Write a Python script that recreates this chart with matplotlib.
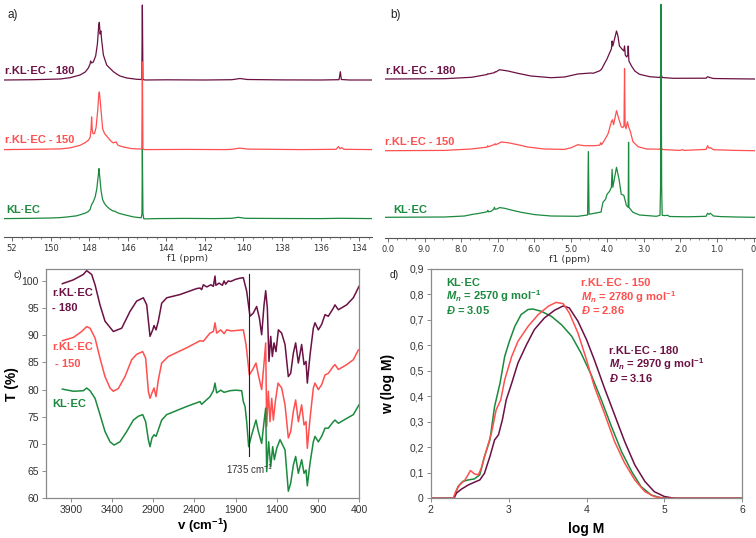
import matplotlib
matplotlib.use("Agg")
import matplotlib.pyplot as plt

plt.rcParams['font.family'] = ['Liberation Sans', 'DejaVu Sans']
plt.rcParams['mathtext.fontset'] = 'custom'
plt.rcParams['mathtext.rm'] = 'Liberation Sans'
plt.rcParams['mathtext.it'] = 'Liberation Sans:italic'
plt.rcParams['mathtext.bf'] = 'Liberation Sans:bold'
plt.rcParams['mathtext.bfit'] = 'Liberation Sans:bold:italic'

GREEN = '#1b8a3e'
RED = '#ff4f4f'
MAROON = '#6b1144'
FRAME = '#8a8a8a'
TXT = '#333333'

# ---------------- a) 31P NMR (ppm, intensity) ----------------
a_kl_ppm = [152.4, 150.9, 150.0, 149.5, 149.16, 148.64, 148.47, 148.2, 148.05, 147.95, 147.87,
            147.78, 147.68, 147.6, 147.52, 147.49, 147.45, 147.38, 147.3, 147.2, 147.09, 146.92,
            146.75, 146.66, 146.6, 146.48, 146.4, 146.2, 146.05, 145.88, 145.71, 145.5, 145.3,
            145.26, 145.24, 145.21, 145.17, 145.1, 144.5, 143.0, 141.5, 140.6, 140.27, 139.9,
            138.0, 136.0, 135.0, 133.3]
a_kl_int = [0, 0.3, 0.6, 1.0, 1.6, 2.8, 3.8, 5.5, 7, 9, 14, 17, 22, 30, 44, 50, 42, 28, 19, 15,
            12.3, 9.5, 7.5, 7.5, 6.5, 5.5, 5, 4, 3.3, 2.5, 1.7, 1.2, 0.8, 5, 69, 5, 0, -0.3, 0,
            0.2, 0, 0.3, 1.3, 0.3, 0.1, 0, 0.3, 0]

a_150_ppm = [152.4, 150.9, 149.5, 148.99, 148.47, 148.2, 148.04, 147.95, 147.9, 147.87, 147.84,
             147.8, 147.72, 147.64, 147.55, 147.5, 147.47, 147.43, 147.38, 147.3, 147.2, 147.05,
             146.88, 146.75, 146.6, 146.5, 146.25, 145.8, 145.27, 145.24, 145.21, 145.1, 143.0,
             141.0, 140.6, 140.18, 139.8, 137.0, 135.2, 135.08, 135.0, 134.91, 134.8, 133.3]
a_150_int = [0, 0.3, 0.7, 1.7, 4.3, 7, 9.3, 12, 20, 32.7, 20, 16, 16, 22, 40, 55, 57.7, 50, 39,
             21, 16, 12.7, 8.7, 6.7, 7.7, 4.3, 2.7, 1, 0.5, 87.7, 0.5, 0, 0.2, 0, 0.3, 1.5, 0.5,
             0, 0.3, 3, 0.8, 2, 0.3, 0]

a_180_ppm = [152.4, 150.9, 149.5, 148.99, 148.47, 148.2, 148.04, 147.95, 147.92, 147.87, 147.78,
             147.66, 147.57, 147.5, 147.47, 147.43, 147.39, 147.35, 147.26, 147.09, 146.92,
             146.74, 146.57, 146.4, 146.05, 145.53, 145.27, 145.24, 145.21, 145.1, 144.0, 142.0,
             140.6, 140.18, 139.8, 138.0, 136.0, 135.05, 134.98, 134.93, 134.5, 133.3]
a_180_int = [0, 0.3, 1.0, 2.3, 5, 8, 12, 16, 19, 17, 18, 24, 36, 55, 57.7, 46, 49, 40, 25, 15,
             11.7, 8.3, 6, 4, 2, 0.7, 0.5, 75, 0.5, 0, 0.2, 0, 0.3, 1.5, 0.5, 0.1, 0, 0.3, 8.3,
             0.5, 0, 0]

# ---------------- b) 1H NMR (ppm, intensity) ----------------
b_kl_ppm = [10.08, 8.45, 7.91, 7.68, 7.54, 7.36, 7.29, 7.27, 7.25, 7.18, 7.11, 7.09, 7.07, 7.01,
            6.95, 6.81, 6.63, 6.36, 5.99, 5.54, 4.81, 4.54, 4.52, 4.50, 4.36, 4.17, 4.16, 4.12,
            4.05, 4.01, 3.94, 3.89, 3.87, 3.85, 3.75, 3.68, 3.62, 3.55, 3.48, 3.43, 3.42, 3.41,
            3.39, 3.30, 3.12, 2.66, 2.56, 2.545, 2.53, 2.515, 2.50, 2.43, 2.35, 2.30, 1.8, 1.3,
            1.26, 1.22, 1.19, 1.15, 1.1, 0.9, 0.5, -0.03]
b_kl_int = [0, 0.3, 1.3, 3, 3.7, 5, 5.5, 7, 5.5, 6, 8, 10, 8, 8.5, 9.7, 9, 7.3, 5, 2.7, 1.3, 1,
            2.3, 65.7, 3, 4, 5.3, 8, 15, 18, 23, 26, 30, 48, 30, 50, 38, 23, 22, 12, 10, 75, 10,
            9, 5, 2.3, 1, 2, 30, 213, 30, 2, 1.7, 2, 0.8, 0.5, 1, 4, 3, 4, 3, 1.3, 0.7, 0.3, 0]

b_150_ppm = [10.08, 8.45, 7.72, 7.36, 7.29, 7.27, 7.25, 7.13, 7.09, 7.07, 7.05, 6.9, 6.72, 6.45,
             6.18, 5.72, 5.17, 4.99, 4.81, 4.63, 4.36, 4.21, 4.18, 4.16, 4.07, 3.98, 3.89, 3.86,
             3.83, 3.75, 3.68, 3.62, 3.58, 3.545, 3.53, 3.515, 3.49, 3.45, 3.42, 3.37, 3.30, 3.16,
             2.93, 2.56, 2.53, 2.50, 2.02, 1.94, 1.9, 1.3, 1.26, 1.22, 1.18, 1.1, 0.5, -0.03]
b_150_int = [0, 0.3, 1.7, 3.3, 3.5, 5, 4, 5.7, 6, 7, 6, 8.7, 8, 6, 3.7, 1.7, 1.3, 3, 6, 5, 5,
             5.5, 8, 6, 11, 17, 29, 31, 26, 40, 31, 24, 23, 25, 82, 25, 22, 29, 24, 19, 9, 4, 1.7,
             1.5, 4, 1.2, 0.3, 1, 0.3, 1.3, 5, 2.5, 3, 1, 0.3, 0]

b_180_ppm = [10.08, 8.45, 7.72, 7.36, 7.29, 7.27, 7.25, 7.13, 7.09, 7.07, 7.05, 6.95, 6.72, 6.45,
             6.09, 5.54, 5.17, 4.81, 4.45, 4.39, 4.22, 4.16, 4.07, 4.01, 3.94, 3.89, 3.87, 3.85,
             3.75, 3.71, 3.67, 3.60, 3.55, 3.53, 3.51, 3.47, 3.44, 3.43, 3.41, 3.34, 3.25, 3.12,
             2.84, 2.56, 2.53, 2.50, 2.20, 1.3, 1.26, 1.2, 1.1, 0.5, -0.03]
b_180_int = [0, 0.3, 1.7, 4, 4.5, 5.3, 5, 6, 6.3, 7.3, 7, 9.3, 8, 5.7, 3, 1.3, 2, 5, 6, 5.7, 8,
             9.7, 16, 20, 26, 30, 38, 33, 48, 43, 33, 30, 28, 33, 24, 22, 24, 33, 18, 13, 8, 4.7,
             2.3, 1.5, 5, 1.5, 0.7, 0.8, 2.3, 1.5, 0.5, 0.2, 0]

# ---------------- c) FTIR (wavenumber, T %) ----------------
ir_180_wn = [4005, 3872, 3750, 3710, 3649, 3608, 3548, 3487, 3386, 3284, 3183, 3102, 3021, 2980,
             2940, 2907, 2891, 2867, 2839, 2798, 2737, 2575, 2373, 2332, 2312, 2292, 2250, 2200,
             2170, 2150, 2140, 2100, 2060, 2040, 2020, 1990, 1960, 1900, 1850, 1806, 1765, 1725,
             1684, 1644, 1611, 1583, 1554, 1534, 1514, 1494, 1473, 1453, 1433, 1409, 1380, 1340,
             1299, 1259, 1230, 1198, 1170, 1137, 1097, 1068, 1044, 1028, 995, 955, 935, 894, 854,
             813, 773, 712, 692, 651, 550, 469, 400]
ir_180_t = [99.5, 100.2, 101.2, 101.9, 101.2, 99.3, 95.6, 92.6, 90.7, 91.3, 94.4, 96.3, 96.9,
            95.6, 89.8, 91.0, 91.8, 91.0, 92.6, 95.9, 96.9, 97.5, 98.6, 98.7, 98.4, 99.3, 98.9,
            99.3, 99.0, 100.9, 99.2, 99.6, 99.2, 100.0, 99.4, 100.0, 99.9, 100.3, 100.5, 100.6,
            98.1, 93.5, 94.1, 95.3, 93.2, 90.1, 95.6, 98.2, 95.0, 85.2, 89.8, 86.1, 88.6, 87.0,
            91.0, 90.4, 88.3, 82.4, 83.0, 86.7, 88.6, 84.9, 88.3, 84.6, 85.2, 81.2, 86.4, 91.3,
            92.3, 91.0, 92.0, 93.8, 93.5, 95.0, 95.6, 94.7, 95.6, 96.9, 99.0]

ir_150_wn = [4005, 3872, 3770, 3710, 3669, 3608, 3548, 3487, 3426, 3386, 3325, 3244, 3163, 3102,
             3029, 2993, 2960, 2940, 2916, 2891, 2867, 2839, 2798, 2717, 2494, 2332, 2292, 2211,
             2170, 2150, 2130, 2080, 2040, 2008, 1950, 1806, 1773, 1733, 1692, 1652, 1623, 1583,
             1554, 1534, 1522, 1502, 1482, 1461, 1441, 1417, 1384, 1340, 1299, 1259, 1230, 1198,
             1170, 1137, 1097, 1068, 1044, 1028, 995, 955, 935, 894, 854, 813, 773, 712, 692,
             651, 550, 469, 408]
ir_150_t = [89.0, 89.6, 90.7, 91.6, 91.3, 89.5, 85.8, 82.4, 80.3, 79.7, 80.2, 82.4, 85.5, 86.5,
            87.0, 85.8, 79.7, 78.4, 79.4, 80.3, 78.7, 81.8, 84.9, 86.1, 87.7, 89.0, 88.9, 90.4,
            90.7, 92.3, 90.4, 91.0, 90.3, 91.0, 90.8, 91.0, 88.3, 82.7, 83.7, 84.9, 82.7, 80.0,
            84.9, 88.6, 73.2, 79.7, 74.1, 78.4, 74.4, 77.8, 81.2, 80.3, 77.2, 71.1, 72.3, 76.0,
            78.1, 74.1, 77.2, 73.5, 74.1, 69.2, 74.7, 80.3, 81.2, 80.0, 80.9, 82.7, 83.0, 84.3,
            84.6, 83.7, 84.6, 85.5, 87.3]

ir_kl_wn = [4005, 3872, 3750, 3710, 3669, 3608, 3548, 3487, 3426, 3377, 3305, 3223, 3142, 3082,
            3029, 2993, 2960, 2940, 2916, 2891, 2867, 2839, 2798, 2737, 2494, 2332, 2312, 2211,
            2170, 2150, 2130, 2080, 2040, 1968, 1900, 1826, 1806, 1785, 1765, 1741, 1704, 1652,
            1623, 1583, 1554, 1534, 1522, 1498, 1473, 1449, 1429, 1400, 1360, 1299, 1259, 1230,
            1198, 1170, 1137, 1097, 1068, 1044, 1028, 995, 955, 935, 894, 854, 813, 773, 712,
            692, 651, 550, 469, 400]
ir_kl_t = [80.1, 79.7, 79.8, 80.3, 79.8, 78.4, 75.4, 72.3, 70.4, 69.8, 70.4, 72.3, 74.4, 75.1,
           75.4, 74.1, 70.8, 69.5, 71.1, 71.7, 71.4, 72.6, 74.4, 75.4, 76.9, 77.8, 77.3, 78.7,
           79.8, 81.2, 79.4, 79.9, 79.5, 79.8, 79.9, 79.8, 77.8, 76.9, 74.1, 69.5, 71.7, 74.4,
           72.3, 70.1, 74.1, 76.6, 64.9, 70.4, 65.8, 69.5, 67.1, 69.2, 70.8, 68.9, 61.3, 62.8,
           66.1, 67.7, 64.6, 67.1, 64.6, 65.2, 62.3, 66.5, 70.4, 71.4, 70.4, 71.4, 72.9, 72.9,
           74.1, 74.4, 73.8, 74.7, 75.4, 77.2]

# ---------------- d) GPC (log M, w) ----------------
gpc_kl_x = [2.0, 2.29, 2.32, 2.35, 2.41, 2.48, 2.56, 2.63, 2.69, 2.76, 2.82, 2.89, 2.95, 3.01,
            3.08, 3.16, 3.25, 3.31, 3.42, 3.55, 3.68, 3.81, 3.93, 4.06, 4.19, 4.32, 4.45, 4.58,
            4.70, 4.83, 4.94, 5.05, 6.0]
gpc_kl_y = [0, 0, 0.02, 0.046, 0.066, 0.072, 0.076, 0.092, 0.164, 0.229, 0.36, 0.452, 0.557,
            0.616, 0.675, 0.721, 0.741, 0.743, 0.734, 0.714, 0.681, 0.636, 0.570, 0.485, 0.387,
            0.282, 0.183, 0.105, 0.046, 0.013, 0.003, 0, 0]

gpc_150_x = [2.0, 2.29, 2.32, 2.37, 2.44, 2.48, 2.51, 2.56, 2.61, 2.65, 2.71, 2.78, 2.84, 2.90,
             2.95, 3.04, 3.12, 3.25, 3.38, 3.51, 3.61, 3.70, 3.78, 3.89, 4.00, 4.10, 4.23, 4.36,
             4.49, 4.62, 4.75, 4.87, 5.0, 6.0]
gpc_150_y = [0, 0, 0.026, 0.052, 0.072, 0.092, 0.109, 0.096, 0.092, 0.118, 0.183, 0.256, 0.347,
             0.387, 0.465, 0.557, 0.616, 0.675, 0.721, 0.754, 0.769, 0.764, 0.727, 0.649, 0.544,
             0.439, 0.334, 0.223, 0.138, 0.072, 0.026, 0.007, 0, 0]

gpc_180_x = [2.0, 2.30, 2.33, 2.39, 2.48, 2.56, 2.63, 2.69, 2.76, 2.82, 2.87, 2.92, 2.97, 3.04,
             3.12, 3.23, 3.33, 3.46, 3.59, 3.70, 3.78, 3.89, 4.00, 4.10, 4.23, 4.36, 4.49, 4.62,
             4.75, 4.87, 5.00, 5.13, 6.0]
gpc_180_y = [0, 0, 0.02, 0.035, 0.052, 0.063, 0.072, 0.098, 0.164, 0.229, 0.249, 0.308, 0.387,
             0.452, 0.531, 0.603, 0.662, 0.708, 0.738, 0.755, 0.747, 0.695, 0.623, 0.544, 0.433,
             0.328, 0.223, 0.131, 0.066, 0.026, 0.007, 0, 0]

nmr_offsets = {'a': [18.7, 87.7, 157.3], 'b': [21.0, 87.6, 159.3]}

W, H = 756, 538
fig = plt.figure(figsize=(W / 100, H / 100), dpi=100)


def box(left, top, right, bottom):
    return [left / W, 1 - bottom / H, (right - left) / W, (bottom - top) / H]


def ftext(x, y, s, **kw):
    fig.text(x / W, 1 - y / H, s, **kw)


def nmr_axes(ax, xlim, ytop, major, minor, labels):
    ax.set_xlim(*xlim)
    ax.set_ylim(0, ytop)
    for s in ['left', 'right', 'top']:
        ax.spines[s].set_visible(False)
    ax.spines['bottom'].set_color('#555555')
    ax.spines['bottom'].set_linewidth(0.8)
    ax.set_yticks([])
    ax.set_xticks(major)
    ax.set_xticklabels(labels, fontsize=6, family='DejaVu Sans', color=TXT)
    ax.set_xticks(minor, minor=True)
    ax.tick_params(axis='x', which='major', length=3, width=0.6, color='#555555', pad=1.5)
    ax.tick_params(axis='x', which='minor', length=1.5, width=0.5, color='#555555')
    ax.set_xlabel('f1 (ppm)', fontsize=6.8, family='DejaVu Sans', color=TXT, labelpad=1)


# a)
axa = fig.add_axes(box(4, 0, 372, 237.3))
off = nmr_offsets['a']
axa.plot(a_180_ppm, [v + off[2] for v in a_180_int], color=MAROON, lw=0.9)
axa.plot(a_150_ppm, [v + off[1] for v in a_150_int], color=RED, lw=0.9)
axa.plot(a_kl_ppm, [v + off[0] for v in a_kl_int], color=GREEN, lw=0.9)
a_major = [152, 150, 148, 146, 144, 142, 140, 138, 136, 134]
a_labels = ['52'] + [str(v) for v in a_major[1:]]
a_minor = [152 - 0.5 * i for i in range(38)]
nmr_axes(axa, (152.41, 133.34), 237.3, a_major, a_minor, a_labels)

# b)
axb = fig.add_axes(box(384.7, 0, 754.7, 238.3))
off = nmr_offsets['b']
axb.plot(b_180_ppm, [v + off[2] for v in b_180_int], color=MAROON, lw=0.9)
axb.plot(b_150_ppm, [v + off[1] for v in b_150_int], color=RED, lw=0.9)
axb.plot(b_kl_ppm, [v + off[0] for v in b_kl_int], color=GREEN, lw=0.9)
b_major = list(range(10, -1, -1))
b_labels = ['0.0'] + ['%.1f' % v for v in b_major[1:-1]] + ['0']
b_minor = [10 - 0.25 * i for i in range(41)]
nmr_axes(axb, (10.09, -0.03), 238.3, b_major, b_minor, b_labels)

# labels on NMR panels
lab = dict(fontsize=8, fontweight='bold', va='center', ha='left')
ftext(5, 71, 'r.KL·EC - 180', color=MAROON, **lab)
ftext(5, 140, 'r.KL·EC - 150', color=RED, **lab)
ftext(6, 210, 'KL·EC', color=GREEN, **lab)
ftext(386, 71, 'r.KL·EC - 180', color=MAROON, **lab)
ftext(385, 141.7, 'r.KL·EC - 150', color=RED, **lab)
ftext(393, 210, 'KL·EC', color=GREEN, **lab)
ftext(8, 15, 'a)', fontsize=8.5, va='center', ha='left', color='#222222')
ftext(390, 15, 'b)', fontsize=8.5, va='center', ha='left', color='#222222')


def frame_axes(ax):
    for s in ax.spines.values():
        s.set_color(FRAME)
        s.set_linewidth(0.9)
    ax.tick_params(length=3, width=0.7, color=FRAME, labelsize=7.5, labelcolor=TXT, pad=2)


# c)
axc = fig.add_axes(box(46, 269, 359, 498.3))
axc.plot(ir_180_wn, ir_180_t, color=MAROON, lw=1.1)
axc.plot(ir_150_wn, ir_150_t, color=RED, lw=1.1)
axc.plot(ir_kl_wn, ir_kl_t, color=GREEN, lw=1.1)
axc.plot([1735, 1735], [67.7, 101.2], color='#222222', lw=0.8)
axc.set_xlim(4204, 400)
axc.set_ylim(60, 102.2)
axc.set_xticks([3900, 3400, 2900, 2400, 1900, 1400, 900, 400])
axc.set_yticks([60, 65, 70, 75, 80, 85, 90, 95, 100])
frame_axes(axc)
axc.set_ylabel('T (%)', fontsize=10, fontweight='bold', labelpad=2)
axc.set_xlabel('v (cm$^{\\mathbf{-1}}$)', fontsize=9.5, fontweight='bold', labelpad=1)
axc.text(1735, 66.6, '1735 cm$^{-1}$', fontsize=7, ha='center', va='top', color='#333333')

ftext(52, 293.3, 'r.KL·EC', color=MAROON, **lab)
ftext(52, 308.3, '- 180', color=MAROON, **lab)
ftext(52, 346.7, 'r.KL·EC', color=RED, **lab)
ftext(55, 364, '- 150', color=RED, **lab)
ftext(52, 404, 'KL·EC', color=GREEN, **lab)
ftext(13, 275, 'c)', fontsize=7.5, va='center', ha='left', color='#222222')

# d)
axd = fig.add_axes(box(430.7, 269, 742.3, 498.3))
axd.plot(gpc_kl_x, gpc_kl_y, color=GREEN, lw=1.1)
axd.plot(gpc_180_x, gpc_180_y, color=MAROON, lw=1.1)
axd.plot(gpc_150_x, gpc_150_y, color=RED, lw=1.1)
axd.set_xlim(2, 6)
axd.set_ylim(0, 0.9)
axd.set_xticks([2, 3, 4, 5, 6])
d_yt = [0, 0.1, 0.2, 0.3, 0.4, 0.5, 0.6, 0.7, 0.8, 0.9]
axd.set_yticks(d_yt)
axd.set_yticklabels(['0'] + [('%.1f' % v).replace('.', ',') for v in d_yt[1:]])
frame_axes(axd)
axd.set_xlabel('log M', fontsize=10, fontweight='bold', labelpad=5)
axd.set_ylabel('w (log M)', fontsize=10, fontweight='bold', labelpad=10)
ftext(390, 275, 'd)', fontsize=7.5, va='center', ha='left', color='#222222')

gpc_text = [
    (446.3, 282.7, GREEN, 'KL·EC', '2570', '3.05'),
    (580.7, 283.3, RED, 'r.KL·EC - 150', '2780', '2.86'),
    (608.7, 350.7, MAROON, 'r.KL·EC - 180', '2970', '3.16'),
]
for x, y, c, name, mn, disp in gpc_text:
    ftext(x, y, name, color=c, **lab)
    ftext(x, y + 13.8, '$\\mathbfit{M}_{\\mathbfit{n}}$ = ' + mn + ' g mol$^{\\mathbf{-1}}$',
          color=c, **lab)
    ftext(x, y + 26.8, '$\\mathbfit{Đ}$ = ' + disp, color=c, **lab)

fig.savefig('out.png', dpi=100)
